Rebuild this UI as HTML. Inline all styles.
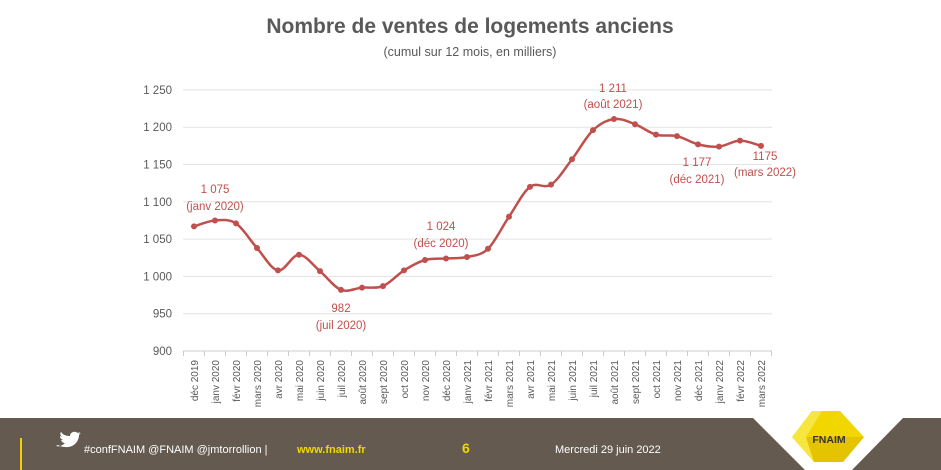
<!DOCTYPE html>
<html><head><meta charset="utf-8"><style>
body{margin:0;width:941px;height:470px;background:#fff;overflow:hidden;font-family:"Liberation Sans",sans-serif}
svg{position:absolute;left:0;top:0}
</style></head><body>
<svg id="s" width="941" height="470" xmlns="http://www.w3.org/2000/svg" font-family="Liberation Sans, sans-serif">
<text x="470" y="33" text-anchor="middle" font-size="21" font-weight="bold" fill="#595959">Nombre de ventes de logements anciens</text>
<text x="470" y="56" text-anchor="middle" font-size="12.5" fill="#595959">(cumul sur 12 mois, en milliers)</text>
<g id="grid" stroke="#e3e3e3" stroke-width="1"></g>
<g id="ylab" font-size="11.5" fill="#595959" text-anchor="end"></g>
<g id="xlab" font-size="10" fill="#595959"></g>
<path id="ln" fill="none" stroke="#c0504d" stroke-width="2.5"></path>
<g id="dots" fill="#c0504d"></g>
<g font-size="11.5" fill="#c0504d" text-anchor="middle">
<text x="215" y="193">1 075</text><text x="215" y="210">(janv 2020)</text>
<text x="341" y="312">982</text><text x="341" y="329">(juil 2020)</text>
<text x="441" y="230">1 024</text><text x="441" y="247">(déc 2020)</text>
<text x="613" y="92">1 211</text><text x="613" y="108">(août 2021)</text>
<text x="697" y="166">1 177</text><text x="697" y="183">(déc 2021)</text>
<text x="765" y="160">1175</text><text x="765" y="176">(mars 2022)</text>
</g>
<rect x="0" y="418" width="941" height="52" fill="#655a4f"/>
<polygon points="753,418 903,418 852,470 805,470" fill="#fff"/>
<polygon points="792,437 812,411 840,411 864,437 843,462 814,462" fill="#f2d600"/>
<polygon points="792,437 812,411 822,411 806,437 814,462" fill="#f8e640"/>
<polygon points="806,437 864,437 843,462 814,462" fill="#e4c400"/>
<text x="829" y="443" text-anchor="middle" font-size="10.5" font-weight="bold" fill="#333">FNAIM</text>
<rect x="20" y="438" width="2" height="32" fill="#f0d000"/>
<path d="M56 446c4 1 7-1 9-3-2 0-3-1-4-3h2c-2-1-3-2-3-4 1 0 1 1 2 1-2-2-2-4-1-5 2 3 5 4 9 4 0-3 3-5 6-4l2 1 2-1-1 2 2-1-2 2c0 7-6 13-14 12-3 0-5-1-7-2z" fill="#fff"/>
<text x="84" y="453" font-size="11" fill="#fff">#confFNAIM @FNAIM @jmtorrollion  |</text>
<text x="297" y="453" font-size="11" font-weight="bold" fill="#f0d800">www.fnaim.fr</text>
<text x="462" y="453" font-size="14" font-weight="bold" fill="#f0d800">6</text>
<text x="555" y="453" font-size="11" fill="#fff">Mercredi 29 juin 2022</text>
</svg>
<script>
var ns="http://www.w3.org/2000/svg";
function el(p,t,a,txt){var e=document.createElementNS(ns,t);for(var k in a)e.setAttribute(k,a[k]);if(txt)e.textContent=txt;document.getElementById(p).appendChild(e);}
function Y(v){return 351-(v-900)*0.746;}
for(var v=900;v<=1250;v+=50){el('grid','line',{x1:183,x2:772,y1:Y(v),y2:Y(v)});el('ylab','text',{x:172,y:Y(v)+4},(v>=1000?(''+Math.floor(v/1000)+' '+String(v%1000).padStart(3,'0')):v));}
var lab=['déc 2019','janv 2020','févr 2020','mars 2020','avr 2020','mai 2020','juin 2020','juil 2020','août 2020','sept 2020','oct 2020','nov 2020','déc 2020','janv 2021','févr 2021','mars 2021','avr 2021','mai 2021','juin 2021','juil 2021','août 2021','sept 2021','oct 2021','nov 2021','déc 2021','janv 2022','févr 2022','mars 2022'];
var val=[1067,1075,1071,1038,1008,1029,1007,982,985,987,1008,1022,1024,1026,1037,1080,1120,1123,1157,1196,1211,1204,1190,1188,1177,1174,1182,1175];
function X(i){return 194+i*21;}
var pts=val.map(function(v,i){return[X(i),Y(v)]});
var d='M'+pts[0];
for(var i=0;i<pts.length-1;i++){var p0=pts[Math.max(0,i-1)],p1=pts[i],p2=pts[i+1],p3=pts[Math.min(pts.length-1,i+2)];
d+=' C'+(p1[0]+(p2[0]-p0[0])/6)+','+(p1[1]+(p2[1]-p0[1])/6)+' '+(p2[0]-(p3[0]-p1[0])/6)+','+(p2[1]-(p3[1]-p1[1])/6)+' '+p2[0]+','+p2[1];}
document.getElementById('ln').setAttribute('d',d);
pts.forEach(function(p,i){el('dots','circle',{cx:p[0],cy:p[1],r:3});
el('grid','line',{x1:X(i)-10.5,x2:X(i)-10.5,y1:351,y2:356,stroke:'#ccc'});
el('xlab','text',{x:0,y:0,'text-anchor':'end',transform:'translate('+(X(i)+4)+',360) rotate(-90)'},lab[i]);});
el('grid','line',{x1:X(27)+10.5,x2:X(27)+10.5,y1:351,y2:356,stroke:'#ccc'});
el('grid','line',{x1:183,x2:772,y1:351,y2:351,stroke:'#ccc'});
</script>
</body></html>
